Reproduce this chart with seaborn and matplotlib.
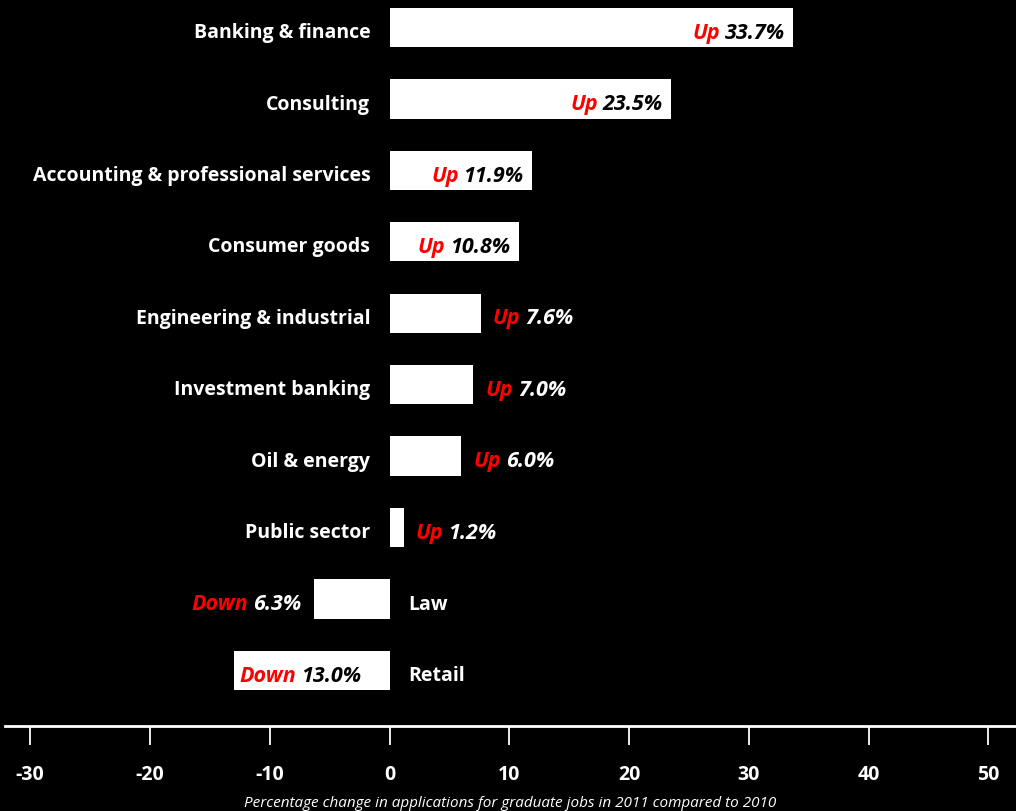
import matplotlib
matplotlib.use("Agg")
import matplotlib.pyplot as plt
import seaborn as sns

categories = [
    "Banking & finance",
    "Consulting",
    "Accounting & professional services",
    "Consumer goods",
    "Engineering & industrial",
    "Investment banking",
    "Oil & energy",
    "Public sector",
    "Law",
    "Retail",
]
values = [33.7, 23.5, 11.9, 10.8, 7.6, 7.0, 6.0, 1.2, -6.3, -13.0]
xticks = [-30, -20, -10, 0, 10, 20, 30, 40, 50]
xlabel = "Percentage change in applications for graduate jobs in 2011 compared to 2010"

sns.set_style("dark", {"axes.facecolor": "black", "figure.facecolor": "black"})
plt.rcParams["font.family"] = ["Open Sans", "DejaVu Sans"]

fig = plt.figure(figsize=(10.16, 8.11), dpi=100, facecolor="black")
ax = fig.add_axes([5 / 1016, 1 - 726 / 811, 1 - 5 / 1016, 726 / 811])
ax.set_facecolor("black")

sns.barplot(x=values, y=categories, orient="h", color="white",
            saturation=1, width=0.55, ax=ax, linewidth=0)

ax.set_xlim(-32.1, 52.3)
ax.set_ylim(9.78, -0.385)
ax.set_xticks(xticks)
ax.set_xticklabels([str(t) for t in xticks], fontsize=14, fontweight="bold",
                   color="white")
ax.tick_params(axis="x", direction="out", length=14, width=1.3,
               color="white", pad=14, bottom=True)
ax.tick_params(axis="y", left=False, labelleft=False)
ax.set_ylabel("")
ax.set_xlabel(xlabel, fontsize=11, style="italic", color="white", labelpad=8)
ax.grid(False)
for side in ("top", "right", "left"):
    ax.spines[side].set_visible(False)
ax.spines["bottom"].set_color("white")
ax.spines["bottom"].set_linewidth(2)

label_font = dict(fontsize=14, fontweight="bold", color="white",
                  va="center_baseline")
value_font = dict(fontsize=15.5, fontweight="bold", style="italic",
                  va="center_baseline")
pair_font = dict(fontsize=15.5, fontweight="bold", style="italic",
                 va="center")
pad = 0.7
dy = 0.045  # text sits a touch below the bar centre

for i, (cat, v) in enumerate(zip(categories, values)):
    y = i + dy
    # category name sits on the opposite side of the zero line
    if v >= 0:
        ax.text(-1.6, y, cat, ha="right", **label_font)
    else:
        ax.text(1.6, y, cat, ha="left", **label_font)

    word = "Up" if v >= 0 else "Down"
    num = f"{abs(v):.1f}%"
    inside = abs(v) >= 10
    num_color = "black" if inside else "white"

    if v >= 0 and inside:
        t = ax.text(v - pad, y, num, ha="right", color=num_color, **value_font)
        ax.annotate(word, xy=(0, 0.5), xycoords=t, xytext=(-3.5, 0),
                    textcoords="offset points", ha="right", color="red",
                    **pair_font)
    elif v >= 0:
        t = ax.text(v + 1.0, y, word, ha="left", color="red", **value_font)
        ax.annotate(num, xy=(1, 0.5), xycoords=t, xytext=(3.5, 0),
                    textcoords="offset points", ha="left", color=num_color,
                    **pair_font)
    elif inside:
        t = ax.text(v + 0.5, y, word, ha="left", color="red", **value_font)
        ax.annotate(num, xy=(1, 0.5), xycoords=t, xytext=(3.5, 0),
                    textcoords="offset points", ha="left", color=num_color,
                    **pair_font)
    else:
        t = ax.text(v - 1.1, y, num, ha="right", color=num_color, **value_font)
        ax.annotate(word, xy=(0, 0.5), xycoords=t, xytext=(-3.5, 0),
                    textcoords="offset points", ha="right", color="red",
                    **pair_font)

fig.savefig("out.png", dpi=100, facecolor="black")
